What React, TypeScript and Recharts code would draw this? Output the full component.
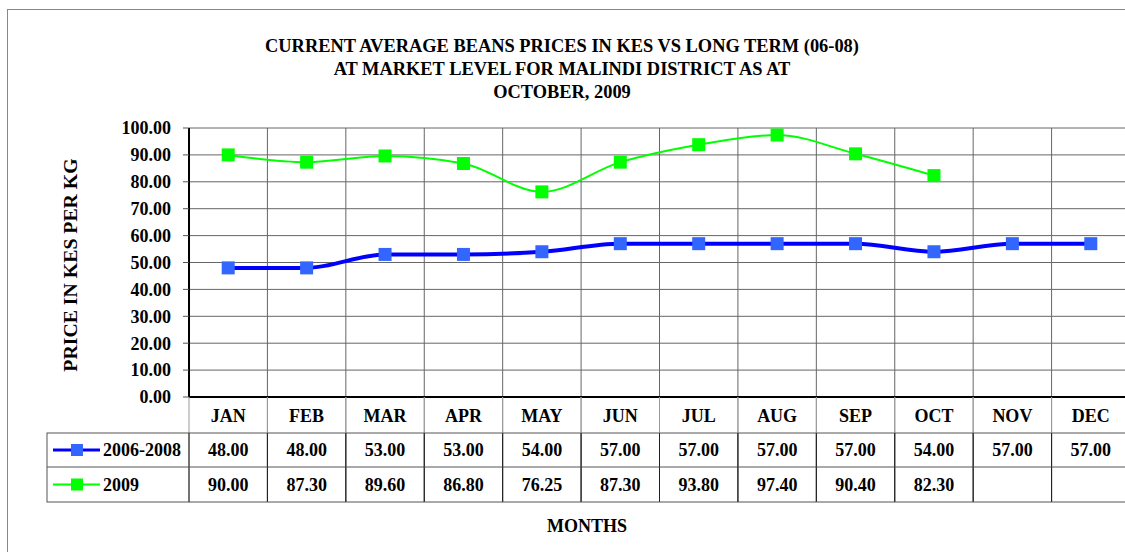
import { LineChart, Line, XAxis, YAxis, CartesianGrid } from 'recharts';

const months = ['JAN', 'FEB', 'MAR', 'APR', 'MAY', 'JUN', 'JUL', 'AUG', 'SEP', 'OCT', 'NOV', 'DEC'];
const longTerm = [48, 48, 53, 53, 54, 57, 57, 57, 57, 54, 57, 57];
const current: (number | null)[] = [90, 87.3, 89.6, 86.8, 76.25, 87.3, 93.8, 97.4, 90.4, 82.3, null, null];
const yTicks = [0, 10, 20, 30, 40, 50, 60, 70, 80, 90, 100];
const seriesNames = ['2006-2008', '2009'];
const titleLines = [
  'CURRENT AVERAGE BEANS PRICES IN KES VS LONG TERM (06-08)',
  'AT MARKET LEVEL FOR MALINDI DISTRICT AS AT',
  'OCTOBER, 2009',
];

const data = months.map((m, i) => ({ month: m, longTerm: longTerm[i], current: current[i] }));

const FONT = '"Liberation Serif", "Times New Roman", serif';
const CHART_W = 1140;
const CHART_H = 560;
const Y_AXIS_W = 189;
const MARGIN = { top: 128, right: 10, bottom: 58, left: 0 };
const BAND = (CHART_W - Y_AXIS_W - MARGIN.right - MARGIN.left) / months.length;
const ROWS = [36, 34, 35];
const LEGEND_X = 47;
const BLUE_LINE = '#0000ff';
const BLUE_MARK = '#3366ff';
const GREEN = '#00ff00';

const fmt = (v: number | null | undefined) => (v == null ? '' : v.toFixed(2));

const squareDot = (fill: string, size: number) => (p: any) => {
  if (p.cx == null || p.cy == null || p.value == null) return <g key={`d-${p.index}`} />;
  return (
    <rect key={`d-${p.index}`} x={p.cx - size / 2} y={p.cy - size / 2} width={size} height={size} fill={fill} />
  );
};

const txt = { fontFamily: FONT, fontWeight: 700, fontSize: 18, fill: '#000' } as const;

function TableTick(props: any) {
  const { x, y, index } = props;
  const left = x - BAND / 2;
  const right = x + BAND / 2;
  const r1 = y + ROWS[0];
  const r2 = r1 + ROWS[1];
  const r3 = r2 + ROWS[2];
  return (
    <g>
      <line x1={left} y1={y} x2={left} y2={r1} stroke="#999" />
      <line x1={right} y1={y} x2={right} y2={r1} stroke="#999" />
      <line x1={left} y1={r1} x2={left} y2={r3} stroke="#222" />
      <line x1={right} y1={r1} x2={right} y2={r3} stroke="#222" />
      <line x1={left} y1={r1} x2={right} y2={r1} stroke="#555" />
      <line x1={left} y1={r2} x2={right} y2={r2} stroke="#555" />
      <line x1={left} y1={r3} x2={right} y2={r3} stroke="#555" />
      <text x={x} y={y + ROWS[0] / 2 + 1} textAnchor="middle" dominantBaseline="central" {...txt}>
        {months[index]}
      </text>
      <text x={x} y={r1 + ROWS[1] / 2} textAnchor="middle" dominantBaseline="central" {...txt}>
        {fmt(longTerm[index])}
      </text>
      <text x={x} y={r2 + ROWS[2] / 2} textAnchor="middle" dominantBaseline="central" {...txt}>
        {fmt(current[index])}
      </text>
      {index === 0 && (
        <g>
          <rect x={LEGEND_X} y={r1} width={left - LEGEND_X} height={r3 - r1} fill="none" stroke="#555" />
          <line x1={LEGEND_X} y1={r2} x2={left} y2={r2} stroke="#555" />
          <line x1={LEGEND_X + 6} y1={r1 + ROWS[1] / 2} x2={LEGEND_X + 53} y2={r1 + ROWS[1] / 2} stroke={BLUE_LINE} strokeWidth={3} />
          <rect x={LEGEND_X + 24} y={r1 + ROWS[1] / 2 - 6} width={12} height={12} fill={BLUE_MARK} />
          <text x={LEGEND_X + 56} y={r1 + ROWS[1] / 2} dominantBaseline="central" {...txt}>
            {seriesNames[0]}
          </text>
          <line x1={LEGEND_X + 6} y1={r2 + ROWS[2] / 2} x2={LEGEND_X + 53} y2={r2 + ROWS[2] / 2} stroke={GREEN} strokeWidth={2} />
          <rect x={LEGEND_X + 24} y={r2 + ROWS[2] / 2 - 6} width={12} height={12} fill={GREEN} />
          <text x={LEGEND_X + 56} y={r2 + ROWS[2] / 2} dominantBaseline="central" {...txt}>
            {seriesNames[1]}
          </text>
        </g>
      )}
    </g>
  );
}

export default function App() {
  return (
    <div
      style={{
        position: 'absolute',
        left: 0,
        top: 0,
        width: 1125,
        height: 552,
        overflow: 'hidden',
        background: '#fff',
        fontFamily: FONT,
        fontWeight: 700,
        color: '#000',
      }}
    >
      <div
        style={{
          position: 'absolute',
          left: 7,
          top: 9,
          width: 1160,
          height: 600,
          border: '1px solid #888',
        }}
      />
      <div
        style={{
          position: 'absolute',
          left: 0,
          top: 35,
          width: 1124,
          textAlign: 'center',
          fontSize: 18.4,
          lineHeight: '23px',
        }}
      >
        {titleLines.map((t) => (
          <div key={t}>{t}</div>
        ))}
      </div>
      <div
        style={{
          position: 'absolute',
          left: -80,
          top: 253,
          width: 300,
          height: 24,
          lineHeight: '24px',
          textAlign: 'center',
          fontSize: 19.8,
          transform: 'rotate(-90deg)',
        }}
      >
        PRICE IN KES PER KG
      </div>
      <div
        style={{
          position: 'absolute',
          left: 487,
          top: 515,
          width: 200,
          textAlign: 'center',
          fontSize: 18,
          lineHeight: '22px',
        }}
      >
        MONTHS
      </div>
      <div style={{ position: 'absolute', left: 0, top: 0 }}>
        <LineChart width={CHART_W} height={CHART_H} data={data} margin={MARGIN}>
          <CartesianGrid
            stroke="#666"
            verticalCoordinatesGenerator={({ offset }: any) =>
              months.slice(1).map((_, i) => offset.left + ((i + 1) * offset.width) / months.length)
            }
          />
          <XAxis
            dataKey="month"
            scale="band"
            height={ROWS[0] + ROWS[1] + ROWS[2]}
            interval={0}
            tickLine={false}
            tickSize={0}
            tickMargin={0}
            axisLine={{ stroke: '#000', strokeWidth: 2 }}
            tick={(p: any) => <TableTick {...p} />}
          />
          <YAxis
            width={Y_AXIS_W}
            domain={[0, 100]}
            ticks={yTicks}
            interval={0}
            tickFormatter={(v: number) => v.toFixed(2)}
            tickSize={6}
            tickMargin={12}
            tickLine={{ stroke: '#555' }}
            axisLine={{ stroke: '#000', strokeWidth: 2 }}
            tick={txt}
          />
          <Line
            type="monotone"
            dataKey="longTerm"
            stroke={BLUE_LINE}
            strokeWidth={4}
            dot={squareDot(BLUE_MARK, 13)}
            activeDot={false}
            isAnimationActive={false}
          />
          <Line
            type="monotone"
            dataKey="current"
            stroke={GREEN}
            strokeWidth={2}
            dot={squareDot(GREEN, 13)}
            activeDot={false}
            connectNulls={false}
            isAnimationActive={false}
          />
        </LineChart>
      </div>
    </div>
  );
}
